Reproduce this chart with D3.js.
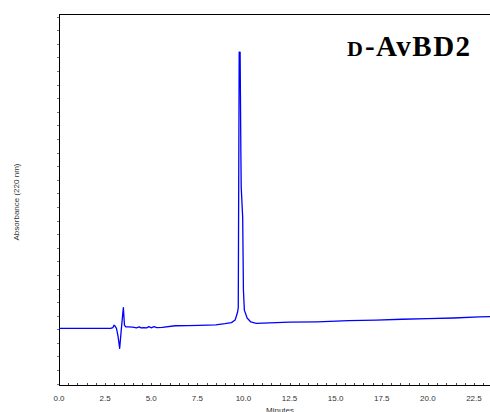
<!DOCTYPE html>
<html><head><meta charset="utf-8">
<script src="https://cdn.jsdelivr.net/npm/d3@7/dist/d3.min.js"></script>
<style>html,body{margin:0;padding:0;background:#fff;}svg{display:block;}</style>
</head><body>
<script>
// Chromatogram trace: retention time (min) and absorbance (AU)
const times = [0, 1.5, 2.8, 2.92, 2.98, 3.05, 3.12, 3.2, 3.29, 3.36, 3.42, 3.49, 3.55, 3.62, 3.75, 4.0, 4.2, 4.35, 4.45, 4.6, 4.75, 4.88, 5.0, 5.15, 5.3, 5.6, 6.3, 7.0, 7.6, 8.5, 9.0, 9.35, 9.55, 9.62, 9.68, 9.72, 9.77, 9.82, 9.86, 9.88, 9.96, 10.0, 10.05, 10.2, 10.4, 10.7, 12.5, 14.0, 15.7, 17.2, 18.6, 20.0, 21.4, 22.8, 23.4];
const absorbance = [0.0007, 0.0007, 0.0007, 0.0012, 0.0030, 0.0022, 0.0005, -0.0050, -0.0140, -0.0030, 0.0060, 0.0160, 0.0030, 0.0017, 0.0018, 0.0016, 0.0011, 0.0018, 0.0010, 0.0012, 0.0010, 0.0019, 0.0011, 0.0019, 0.0012, 0.0014, 0.0026, 0.0027, 0.0029, 0.0033, 0.0041, 0.0049, 0.0068, 0.0098, 0.0125, 0.0160, 0.2040, 0.2040, 0.1320, 0.1045, 0.0825, 0.0289, 0.0141, 0.0083, 0.0054, 0.0044, 0.0052, 0.0055, 0.0063, 0.0068, 0.0074, 0.0078, 0.0083, 0.0091, 0.0093];
const xTickLabels = ["0.0","2.5","5.0","7.5","10.0","12.5","15.0","17.5","20.0","22.5"];
const xTitle = "Minutes";
const yTitle = "Absorbance (220 nm)";
const chartTitleSmall = "D";
const chartTitleRest = "-AvBD2";

const W = 490, H = 412;
const svg = d3.select("body").append("svg").attr("width", W).attr("height", H);
const mLeft = 59, mRight = 490, mTop = 14, mBottom = 385;

const x = d3.scaleLinear().domain([0, 23.37]).range([mLeft, mRight]);
const y = d3.scaleLinear().domain([-0.041, 0.232]).range([mBottom, mTop]);

// y ticks (unlabelled)
const yTicks = d3.range(-0.04, 0.2301, 0.01);
svg.append("g").selectAll("line").data(yTicks).join("line")
  .attr("x1", mLeft - 2).attr("x2", mLeft + 1)
  .attr("y1", d => Math.round(y(d)) + 0.5).attr("y2", d => Math.round(y(d)) + 0.5)
  .attr("stroke", "#777").attr("stroke-width", 1);

// x ticks
const xMinor = d3.range(0, 23.37, 0.5);
svg.append("g").selectAll("line").data(xMinor).join("line")
  .attr("x1", d => Math.round(x(d)) + 0.5).attr("x2", d => Math.round(x(d)) + 0.5)
  .attr("y1", mBottom - 2).attr("y2", mBottom + 1)
  .attr("stroke", "#444").attr("stroke-width", 1);

svg.append("g").selectAll("text").data(xTickLabels).join("text")
  .attr("x", d => x(+d)).attr("y", 401)
  .attr("text-anchor", "middle")
  .attr("font-family", "Liberation Sans, Arial, sans-serif")
  .attr("font-size", 8).attr("fill", "#333")
  .text(d => d);

// frame
svg.append("line").attr("x1", mLeft + 0.5).attr("x2", mLeft + 0.5).attr("y1", mTop).attr("y2", mBottom + 0.5)
  .attr("stroke", "#000").attr("stroke-width", 1);
svg.append("line").attr("x1", mLeft).attr("x2", mRight).attr("y1", mBottom + 0.5).attr("y2", mBottom + 0.5)
  .attr("stroke", "#000").attr("stroke-width", 1);
svg.append("line").attr("x1", mLeft).attr("x2", mRight).attr("y1", mTop + 0.5).attr("y2", mTop + 0.5)
  .attr("stroke", "#000").attr("stroke-width", 1);

// trace
const line = d3.line().x((d, i) => x(times[i])).y(d => y(d));
svg.append("path").datum(absorbance).attr("d", line)
  .attr("fill", "none").attr("stroke", "#0000ff").attr("stroke-width", 1.3)
  .attr("stroke-linejoin", "round");

// axis titles
svg.append("text").attr("x", 280).attr("y", 413).attr("text-anchor", "middle")
  .attr("font-family", "Liberation Sans, Arial, sans-serif").attr("font-size", 8).attr("fill", "#333")
  .text(xTitle);
svg.append("text").attr("transform", "translate(19,202) rotate(-90)").attr("text-anchor", "middle")
  .attr("font-family", "Liberation Sans, Arial, sans-serif").attr("font-size", 8).attr("fill", "#333")
  .text(yTitle);

// chart title
const t = svg.append("text").attr("x", 347).attr("y", 56)
  .attr("font-family", "Liberation Serif, Times New Roman, serif").attr("font-weight", "bold").attr("fill", "#000");
t.append("tspan").attr("font-size", 22).attr("letter-spacing", 2).text(chartTitleSmall);
t.append("tspan").attr("font-size", 29).attr("letter-spacing", 1.5).text(chartTitleRest);
</script>
</body></html>
